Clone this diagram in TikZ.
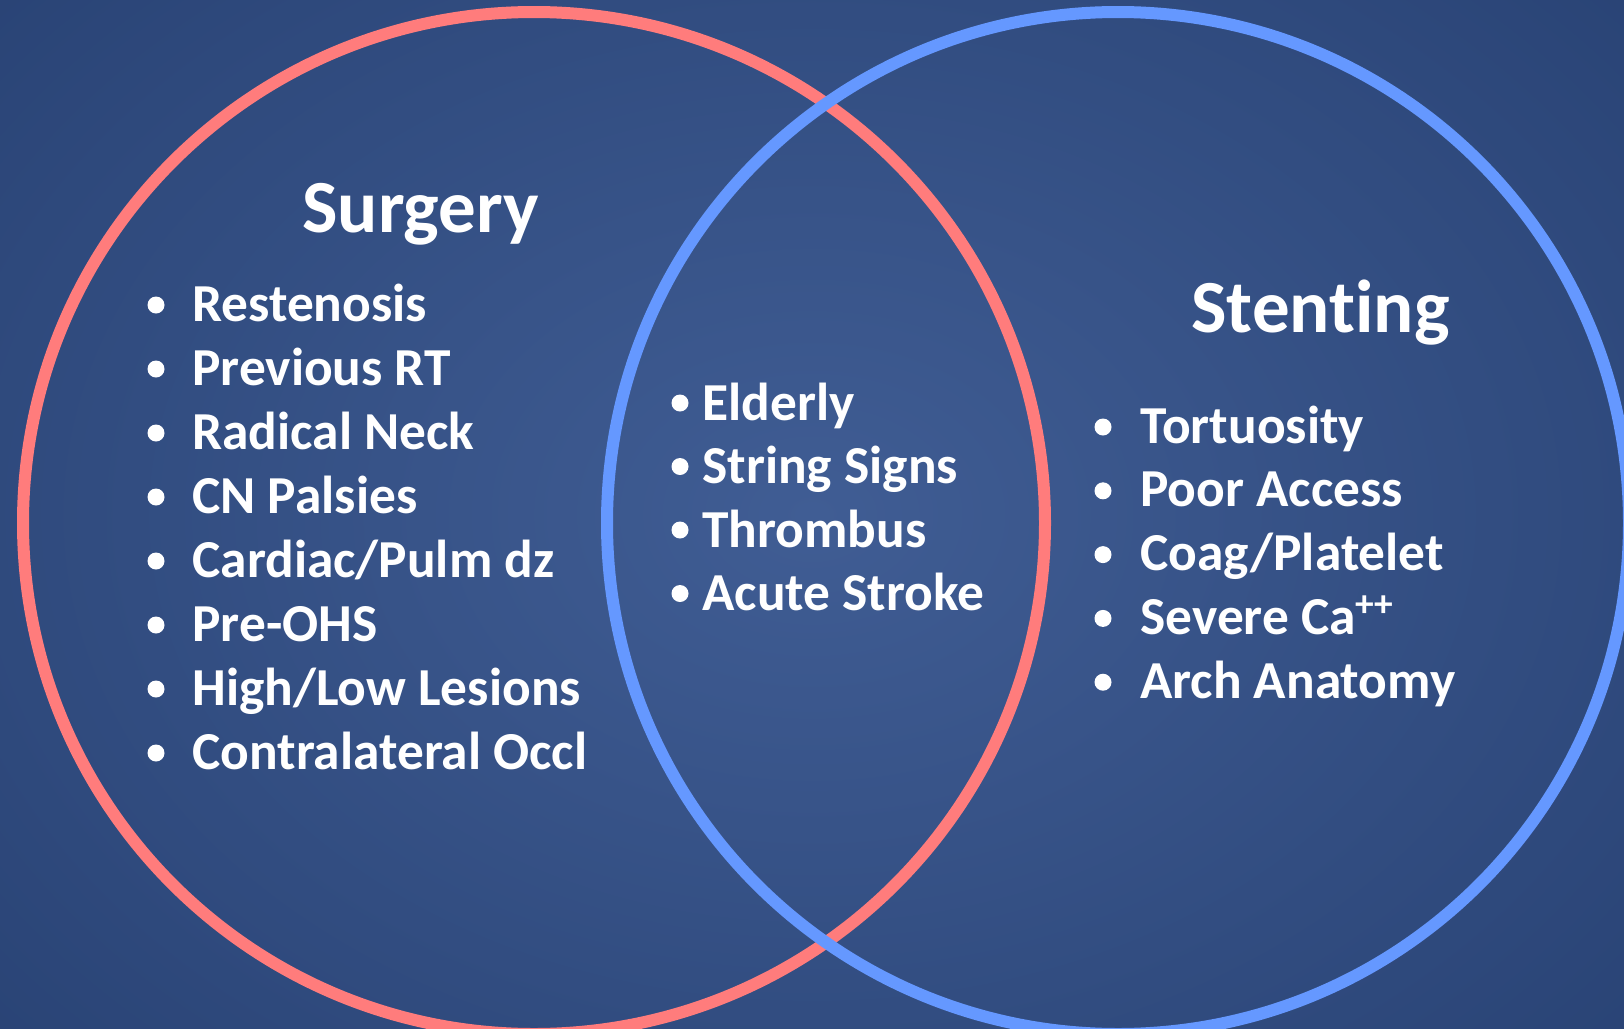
\documentclass[tikz,border=0pt]{standalone}
\usepackage{fontspec}
\setmainfont{Carlito}[Ligatures=CommonOff]
\usetikzlibrary{positioning}

\definecolor{bgdark}{RGB}{41,67,117}
\definecolor{bglight}{RGB}{64,93,148}
\definecolor{surgred}{RGB}{255,124,124}
\definecolor{stentblue}{RGB}{101,152,255}

\begin{document}
\begin{tikzpicture}[x=0.5pt,y=-0.5pt,
  item/.style={anchor=base west,text=white,inner sep=0pt,
    font=\bfseries\fontsize{26.7}{30}\selectfont},
  heading/.style={anchor=base west,text=white,inner sep=0pt,
    font=\bfseries\fontsize{37.5}{44}\selectfont},
  dot/.style={circle,fill=white,inner sep=0pt,minimum size=8.5pt},
  ring/.style={line width=6pt}]
\useasboundingbox (0,0) rectangle (1624,1029);
\clip (0,0) rectangle (1624,1029);
% ---- background ----
\shade[inner color=bglight,outer color=bgdark] (-300,-300) rectangle (1924,1329);
% ---- the two circles ----
\draw[ring,surgred] (534,523) circle (511);
\draw[ring,stentblue] (1118,523) circle (511);
% ---- surgery ----
\node[heading] (surgery) at (302,232) {Surgery};
\foreach \t [count=\i] in {Restenosis, Previous RT, Radical Neck, CN Palsies,
    Cardiac/Pulm dz, Pre-OHS, High/Low Lesions, Contralateral Occl}{
  \node[item] (s\i) at (192,{321+64*(\i-1)}) {\t};
  \node[dot] (sb\i) at (156,{305+64*(\i-1)}) {};
}
% ---- both ----
\foreach \t [count=\i] in {Elderly, String Signs, Thrombus, Acute Stroke}{
  \node[item] (b\i) at (702,{420+63.5*(\i-1)}) {\t};
  \node[dot] (bb\i) at (680,{403+63.5*(\i-1)}) {};
}
% ---- stenting ----
\node[heading] (stenting) at (1191,332) {Stenting};
\foreach \t [count=\i] in {Tortuosity, Poor Access, Coag/Platelet,
    Severe Ca\textsuperscript{++}, Arch Anatomy}{
  \node[item] (t\i) at (1140,{443+63.8*(\i-1)}) {\t};
  \node[dot] (tb\i) at (1103,{427+63.8*(\i-1)}) {};
}
\end{tikzpicture}
\end{document}
